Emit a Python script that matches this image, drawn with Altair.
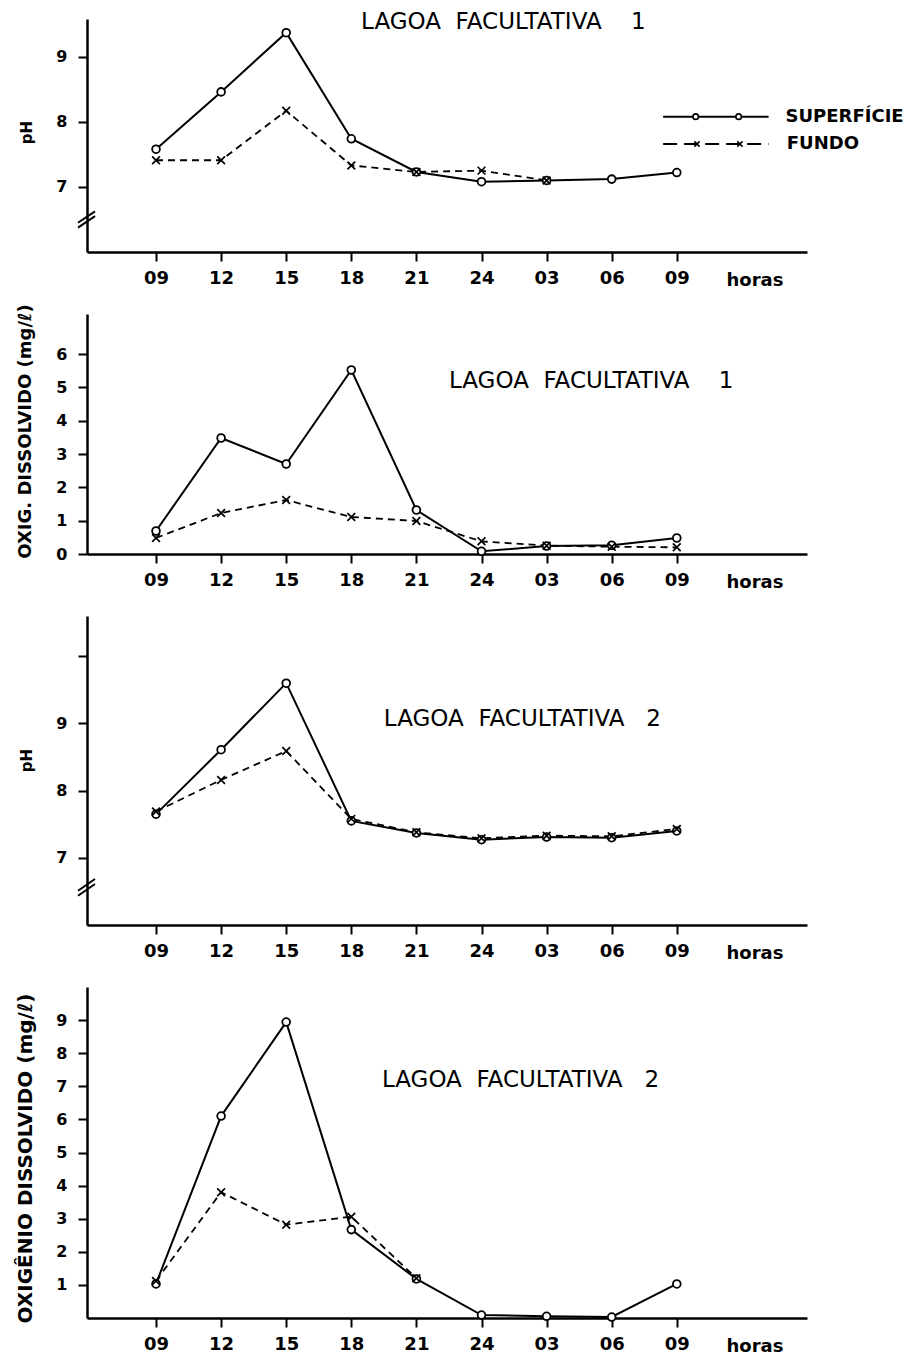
import altair as alt
import pandas as pd

# ---------------- data ----------------
hours = ["09", "12", "15", "18", "21", "24", "03", "06", "09"]

ph1_sup = [7.58, 8.46, 9.37, 7.74, 7.23, 7.08, 7.10, 7.12, 7.22]
ph1_fun = [7.41, 7.41, 8.17, 7.33, 7.23, 7.25, 7.10]

od1_sup = [0.69, 3.48, 2.70, 5.52, 1.32, 0.08, 0.24, 0.26, 0.48]
od1_fun = [0.48, 1.23, 1.62, 1.11, 0.99, 0.38, 0.25, 0.22, 0.20]

ph2_sup = [7.65, 8.61, 9.60, 7.55, 7.37, 7.27, 7.31, 7.30, 7.40]
ph2_fun = [7.69, 8.16, 8.59, 7.58, 7.38, 7.29, 7.33, 7.32, 7.43]

od2_sup = [1.03, 6.10, 8.94, 2.67, 1.18, 0.09, 0.05, 0.03, 1.03]
od2_fun = [1.12, 3.80, 2.82, 3.06, 1.20]

NB = "\u00a0"
panel_titles = ["LAGOA" + NB * 2 + "FACULTATIVA" + NB * 4 + "1",
                "LAGOA" + NB * 2 + "FACULTATIVA" + NB * 4 + "1",
                "LAGOA" + NB * 2 + "FACULTATIVA" + NB * 3 + "2",
                "LAGOA" + NB * 2 + "FACULTATIVA" + NB * 3 + "2"]
y_titles = ["pH", "OXIG. DISSOLVIDO (mg/ℓ)", "pH", "OXIGÊNIO DISSOLVIDO (mg/ℓ)"]
legend_labels = ["SUPERFÍCIE", "FUNDO"]
x_unit = "horas"

FONT = "DejaVu Sans"
X_DOMAIN = [-1.06, 10.0]
W = 720
XPATH = "M-1,-1L1,1M-1,1L1,-1"
label_js = "[" + ",".join("'%s'" % h for h in hours) + "][datum.value]"


def panel(sup, fun, ydom, yticks, ytitle, title, title_at, h, title_xy, title_size,
          brk=None, legend=False, hide_vals=()):
    xenc = alt.X("i:Q", scale=alt.Scale(domain=X_DOMAIN, nice=False, zero=False),
                 axis=alt.Axis(values=list(range(len(hours))), labelExpr=label_js,
                               title=None))
    lab_expr = "datum.label"
    for hv in hide_vals:
        lab_expr = "datum.value == %s ? '' : (%s)" % (hv, lab_expr)
    yenc = alt.Y("v:Q", scale=alt.Scale(domain=ydom, nice=False, zero=False),
                 axis=alt.Axis(values=yticks, labelExpr=lab_expr, title=ytitle,
                               titleX=title_xy[0], titleY=title_xy[1], titleAngle=270,
                               titleAlign="center", titleBaseline="middle",
                               titleFontSize=title_size))

    sup_df = pd.DataFrame({"i": list(range(len(sup))), "v": sup})
    fun_df = pd.DataFrame({"i": list(range(len(fun))), "v": fun})

    layers = [
        alt.Chart(fun_df).mark_line(color="black", strokeWidth=1.8, strokeDash=[7, 5])
        .encode(x=xenc, y=yenc),
        alt.Chart(sup_df).mark_line(color="black", strokeWidth=2)
        .encode(x=xenc, y=yenc),
        alt.Chart(sup_df).mark_point(shape="circle", size=60, filled=True, fill="white",
                                     stroke="black", strokeWidth=1.8, opacity=1)
        .encode(x=xenc, y=yenc),
        alt.Chart(fun_df).mark_point(shape=XPATH, size=60, filled=False,
                                     stroke="black", strokeWidth=1.7, opacity=1)
        .encode(x=xenc, y=yenc),
    ]

    tdf = pd.DataFrame({"i": [title_at[0]], "v": [title_at[1]], "t": [title]})
    layers.append(alt.Chart(tdf).mark_text(align="left", baseline="middle", fontSize=23,
                                           font=FONT, color="black")
                  .encode(x=xenc, y=yenc, text="t:N"))

    hdf = pd.DataFrame({"i": [9.2], "t": [x_unit]})
    layers.append(alt.Chart(hdf).mark_text(align="center", baseline="middle", fontSize=18,
                                           font=FONT, fontWeight="bold", color="black")
                  .encode(x=xenc, y=alt.value(h + 29), text="t:N"))

    if brk is not None:
        bdf = pd.DataFrame({"v": [brk - 0.125, brk - 0.05], "v2": [brk + 0.05, brk + 0.125]})
        layers.append(alt.Chart(bdf).mark_rule(color="black", strokeWidth=2)
                      .encode(x=alt.value(-9), x2=alt.value(8), y=yenc,
                              y2=alt.Y2("v2:Q")))

    if legend:
        lv = [8.08, 7.66]
        ldf = pd.DataFrame({"i": [7.79, 9.41], "v": [lv[0], lv[0]]})
        ldf2 = pd.DataFrame({"i": [7.79, 9.41], "v": [lv[1], lv[1]]})
        lp1 = pd.DataFrame({"i": [8.29, 8.95], "v": [lv[0], lv[0]]})
        lp2 = pd.DataFrame({"i": [8.31, 8.97], "v": [lv[1], lv[1]]})
        ltx = pd.DataFrame({"i": [9.67, 9.69], "v": lv, "t": legend_labels})
        layers += [
            alt.Chart(ldf).mark_line(color="black", strokeWidth=2).encode(x=xenc, y=yenc),
            alt.Chart(ldf2).mark_line(color="black", strokeWidth=2, strokeDash=[14, 7])
            .encode(x=xenc, y=yenc),
            alt.Chart(lp1).mark_point(shape="circle", size=30, filled=True, fill="white",
                                      stroke="black", strokeWidth=1.6, opacity=1)
            .encode(x=xenc, y=yenc),
            alt.Chart(lp2).mark_point(shape=XPATH, size=28, filled=False, stroke="black",
                                      strokeWidth=1.6, opacity=1)
            .encode(x=xenc, y=yenc),
            alt.Chart(ltx).mark_text(align="left", baseline="middle", fontSize=18,
                                     font=FONT, fontWeight="bold", color="black")
            .encode(x=xenc, y=yenc, text="t:N"),
        ]

    return alt.layer(*layers).properties(width=W, height=h)


p1 = panel(ph1_sup, ph1_fun, [6.0, 9.58], [7, 8, 9], y_titles[0], panel_titles[0],
           (3.15, 9.53), 233, (-61, 113), 15, brk=6.5, legend=True)
p2 = panel(od1_sup, od1_fun, [0.0, 7.2], [0, 1, 2, 3, 4, 5, 6], y_titles[1], panel_titles[1],
           (4.5, 5.19), 240, (-62, 117), 18)
p3 = panel(ph2_sup, ph2_fun, [6.0, 10.6], [7, 8, 9, 10], y_titles[2], panel_titles[2],
           (3.5, 9.07), 309, (-61, 144), 15, brk=6.56, hide_vals=(10,))
p4 = panel(od2_sup, od2_fun, [0.0, 10.0], [1, 2, 3, 4, 5, 6, 7, 8, 9], y_titles[3],
           panel_titles[3], (3.47, 7.2), 331, (-62, 171), 20)

chart = alt.vconcat(p1, p2, p3, p4, spacing=62, bounds="flush").properties(
    padding={"left": 14, "top": 11, "right": 5, "bottom": 5}
).configure_view(stroke=None).configure_axis(
    grid=False, domainColor="black", domainWidth=2.5, tickColor="black", tickWidth=2,
    tickSize=9, labelFont=FONT, labelFontWeight="bold", labelColor="black",
    titleFont=FONT, titleFontWeight="bold", titleColor="black",
).configure_axisX(labelFontSize=18, labelPadding=8).configure_axisY(
    labelFontSize=16, labelPadding=11)

chart.save("out.html", embed_options={"renderer": "svg", "actions": False})
